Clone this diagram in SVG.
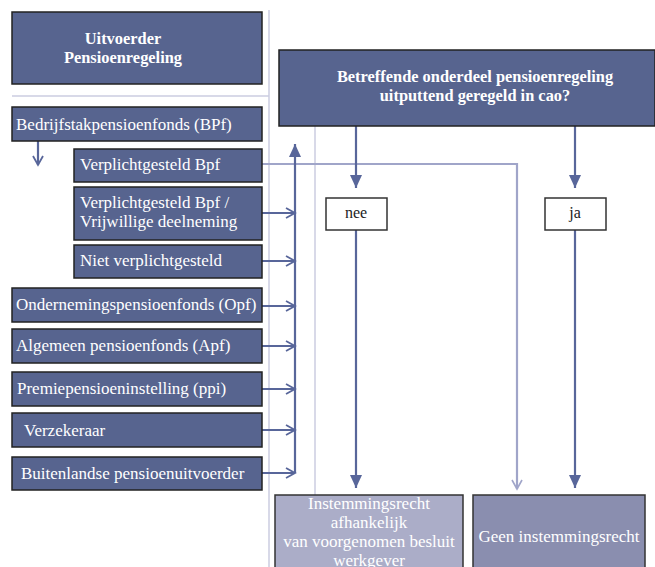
<svg xmlns="http://www.w3.org/2000/svg" width="655" height="567" viewBox="0 0 655 567">
<defs>
<style>
.box{fill:#57648f;stroke:#222;stroke-width:1.5}
.t{font-family:"Liberation Serif","Times New Roman",serif;font-size:17px;fill:#fff}
.tb{font-family:"Liberation Serif","Times New Roman",serif;font-size:16.4px;font-weight:bold;fill:#fff;text-anchor:middle}
.tc{font-family:"Liberation Serif","Times New Roman",serif;font-size:17px;fill:#fff;text-anchor:middle}
.ar{stroke:#58669a;stroke-width:2.2;fill:none}
.thin{stroke:#cbcce0;stroke-width:1.5;fill:none}
</style>
<marker id="open" markerWidth="12" markerHeight="12" refX="10" refY="6" orient="auto" markerUnits="userSpaceOnUse">
<path d="M1,1 L10,6 L1,11" fill="none" stroke="#58669a" stroke-width="1.8"/>
</marker>
<marker id="openL" markerWidth="12" markerHeight="12" refX="10" refY="6" orient="auto" markerUnits="userSpaceOnUse">
<path d="M1,1 L10,6 L1,11" fill="none" stroke="#a0a5c9" stroke-width="1.6"/>
</marker>
<marker id="fill" markerWidth="14" markerHeight="14" refX="13" refY="7" orient="auto" markerUnits="userSpaceOnUse">
<path d="M0,1 L13,7 L0,13 Z" fill="#58669a"/>
</marker>
</defs>

<g id="guides">
<line class="thin" x1="269" y1="10" x2="269" y2="567"/>
<line class="thin" x1="12" y1="96" x2="269" y2="96"/>
<line class="thin" x1="315" y1="126" x2="315" y2="495"/>
</g>

<g id="connectors">
<line class="ar" x1="38" y1="141" x2="38" y2="165" marker-end="url(#open)"/>
<polyline points="262,164 517,164 517,489" fill="none" stroke="#a0a5c9" stroke-width="2.2" marker-end="url(#openL)"/>
<line class="ar" x1="295" y1="473" x2="295" y2="144" marker-end="url(#fill)" stroke-width="3"/>
<line class="ar" x1="262" y1="213" x2="295" y2="213" marker-end="url(#open)"/>
<line class="ar" x1="262" y1="261" x2="295" y2="261" marker-end="url(#open)"/>
<line class="ar" x1="262" y1="306" x2="295" y2="306" marker-end="url(#open)"/>
<line class="ar" x1="262" y1="346" x2="295" y2="346" marker-end="url(#open)"/>
<line class="ar" x1="262" y1="389" x2="295" y2="389" marker-end="url(#open)"/>
<line class="ar" x1="262" y1="430" x2="295" y2="430" marker-end="url(#open)"/>
<line class="ar" x1="262" y1="473" x2="295" y2="473" marker-end="url(#open)"/>
<line class="ar" x1="356" y1="126" x2="356" y2="188" marker-end="url(#fill)" stroke-width="3"/>
<line class="ar" x1="575" y1="126" x2="575" y2="188" marker-end="url(#fill)" stroke-width="3"/>
<line class="ar" x1="356" y1="230" x2="356" y2="488" marker-end="url(#fill)" stroke-width="3"/>
<line class="ar" x1="575" y1="230" x2="575" y2="488" marker-end="url(#fill)" stroke-width="3"/>
</g>

<g id="uitvoerder">
<rect class="box" x="12" y="12" width="250" height="72"/>
<text class="tb" x="123" y="44">Uitvoerder</text>
<text class="tb" x="123" y="63">Pensioenregeling</text>
</g>

<g id="bpf">
<rect class="box" x="12" y="107" width="250" height="34"/>
<text class="t" x="16" y="130">Bedrijfstakpensioenfonds (BPf)</text>
</g>

<g id="verplicht">
<rect class="box" x="74" y="149" width="188" height="33"/>
<text class="t" x="80" y="170">Verplichtgesteld Bpf</text>
</g>

<g id="vrijwillig">
<rect class="box" x="74" y="187" width="188" height="53"/>
<text class="t" x="80" y="208">Verplichtgesteld Bpf /</text>
<text class="t" x="80" y="227">Vrijwillige deelneming</text>
</g>

<g id="niet">
<rect class="box" x="74" y="245" width="188" height="33"/>
<text class="t" x="80" y="266">Niet verplichtgesteld</text>
</g>

<g id="opf">
<rect class="box" x="12" y="288" width="250" height="34"/>
<text class="t" x="16" y="310">Ondernemingspensioenfonds (Opf)</text>
</g>

<g id="apf">
<rect class="box" x="12" y="329" width="250" height="34"/>
<text class="t" x="16" y="351">Algemeen pensioenfonds (Apf)</text>
</g>

<g id="ppi">
<rect class="box" x="12" y="372" width="250" height="34"/>
<text class="t" x="17" y="394">Premiepensioeninstelling (ppi)</text>
</g>

<g id="verzekeraar">
<rect class="box" x="12" y="413" width="250" height="34"/>
<text class="t" x="24" y="436">Verzekeraar</text>
</g>

<g id="buitenland">
<rect class="box" x="12" y="457" width="250" height="33"/>
<text class="t" x="21" y="479">Buitenlandse pensioenuitvoerder</text>
</g>

<g id="vraag">
<rect class="box" x="279" y="50" width="376" height="76"/>
<text class="tb" x="475" y="82">Betreffende onderdeel pensioenregeling</text>
<text class="tb" x="475" y="101">uitputtend geregeld in cao?</text>
</g>

<g id="nee">
<rect x="326" y="198" width="61" height="32" fill="#fff" stroke="#333" stroke-width="1.5"/>
<text x="356" y="218" font-family="Liberation Serif, serif" font-size="16" fill="#222" text-anchor="middle">nee</text>
</g>

<g id="ja">
<rect x="545" y="198" width="61" height="32" fill="#fff" stroke="#333" stroke-width="1.5"/>
<text x="575" y="218" font-family="Liberation Serif, serif" font-size="16" fill="#222" text-anchor="middle">ja</text>
</g>

<g id="instemming">
<rect x="275" y="495" width="188" height="80" fill="#abadc8" stroke="#333" stroke-width="1.5"/>
<text class="tc" x="369" y="509">Instemmingsrecht</text>
<text class="tc" x="369" y="528">afhankelijk</text>
<text class="tc" x="369" y="547">van voorgenomen besluit</text>
<text class="tc" x="369" y="566">werkgever</text>
</g>

<g id="geen">
<rect x="473" y="495" width="172" height="80" fill="#8a8eaf" stroke="#333" stroke-width="1.5"/>
<text class="tc" x="559" y="542">Geen instemmingsrecht</text>
</g>
</svg>
